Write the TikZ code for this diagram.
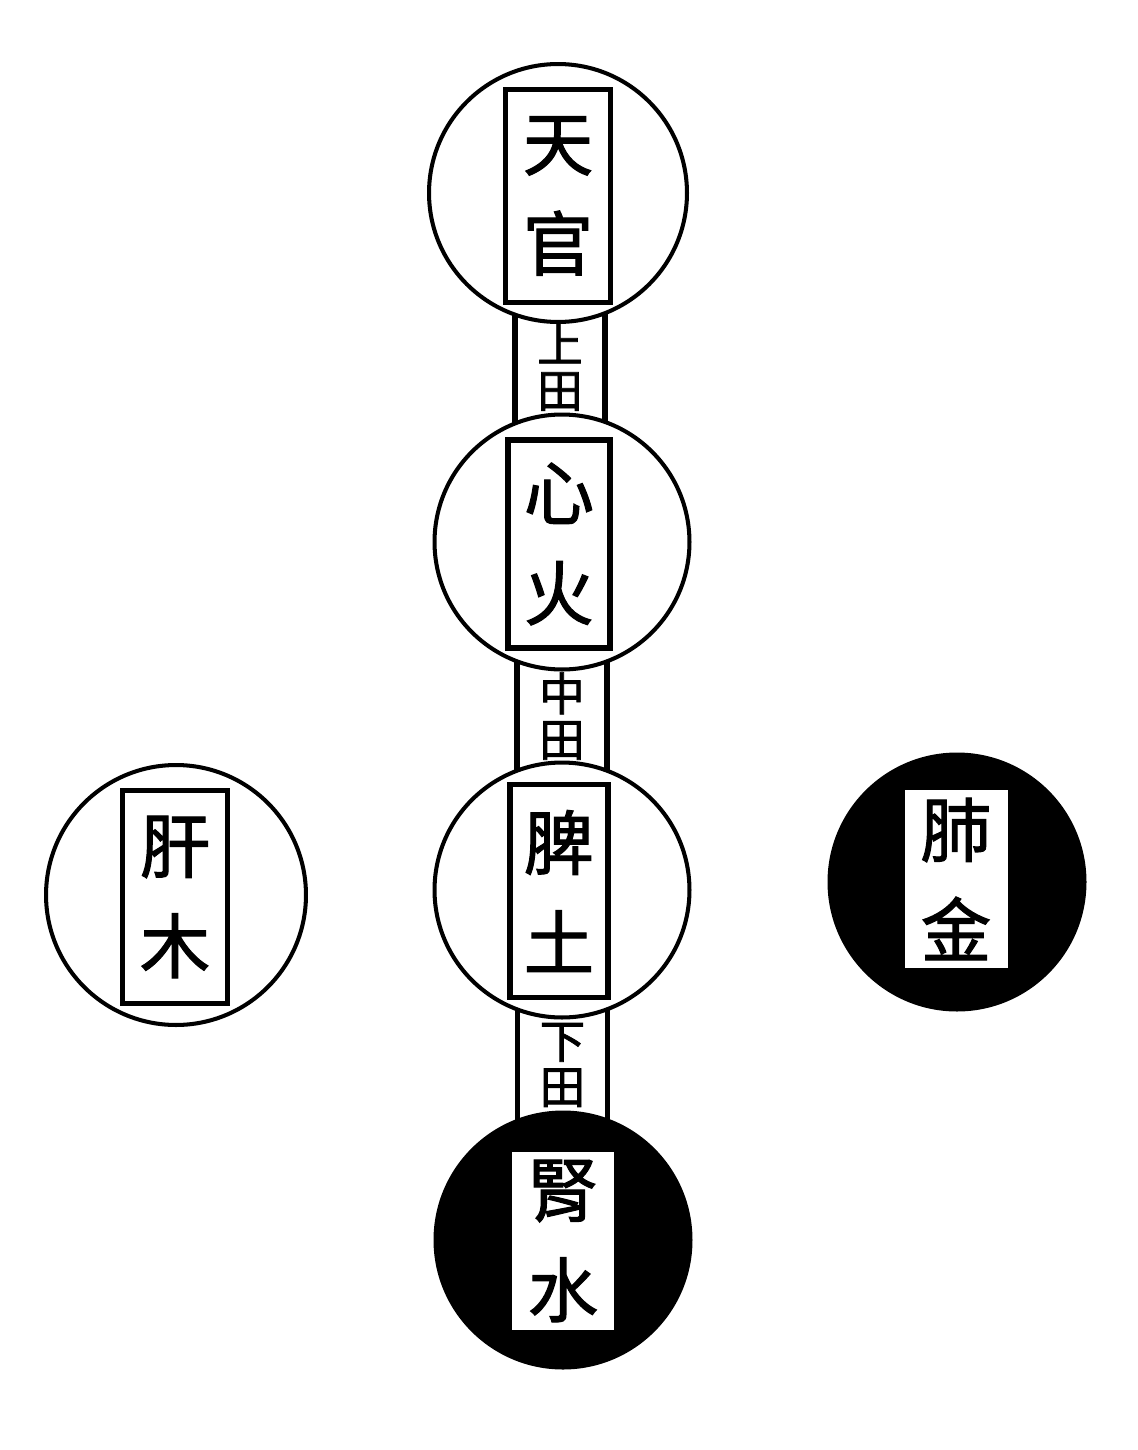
\documentclass[tikz,border=0pt]{standalone}
\usepackage{fontspec}
\newfontfamily\cjk{Noto Sans CJK TC}[FakeBold=1.6]
\usetikzlibrary{
  positioning,
  calc,
  backgrounds
}

\begin{document}
\begin{tikzpicture}[
    x=0.02cm, y=-0.02cm,
    every node/.style={font=\cjk},
    organ/.style={circle, draw, line width=2.3pt, fill=white,
                  minimum size=5.1cm, inner sep=0pt},
    organdark/.style={organ, fill=black},
    namebox/.style={rectangle, draw, line width=3pt, fill=white,
                    minimum width=2.1cm, minimum height=4.25cm, inner sep=0pt,
                    align=center, font=\cjk\fontsize{40}{57}\selectfont},
    namewhite/.style={namebox, draw=none, minimum width=2.06cm, minimum height=3.56cm},
    fieldbox/.style={rectangle, draw, line width=3.2pt, fill=white,
                     minimum width=1.8cm, minimum height=2.7cm, inner sep=0pt,
                     align=center, font=\cjk\fontsize{26}{26}\selectfont},
]
\useasboundingbox (0,0) rectangle (1137,1450);

% central column
\node[organ, minimum size=5.16cm] (tian) at (558,193) {};
\node[organ] (xin) at (562,542) {};
\node[organ] (pi) at (562,890) {};
\node[organdark] (shen) at (563,1240) {};

% left and right
\node[organ, minimum size=5.2cm] (gan) at (176,895) {};
\node[organdark] (fei) at (957,882) {};

% names
\node[namebox] (tianname) at (558,196) {天\\官};
\node[namebox, minimum width=2.04cm, minimum height=4.16cm] (xinname) at (559,544) {心\\火};
\node[namebox, minimum width=1.96cm] (piname) at (559,891) {脾\\土};
\node[namebox] (ganname) at (175,897) {肝\\木};
\node[namewhite] (shenname) at (563,1241) {腎\\水};
\node[namewhite] (feiname) at (956,879) {肺\\金};

% the three fields, behind the circles
\begin{scope}[on background layer]
\node[fieldbox] (shang) at ($(tian)!0.5!(xin)$) {上\\田};
\node[fieldbox] (zhong) at ($(xin)!0.5!(pi)$) {中\\田};
\node[fieldbox] (xia) at ($(pi)!0.5!(shen)$) {下\\田};
\end{scope}

\end{tikzpicture}
\end{document}
